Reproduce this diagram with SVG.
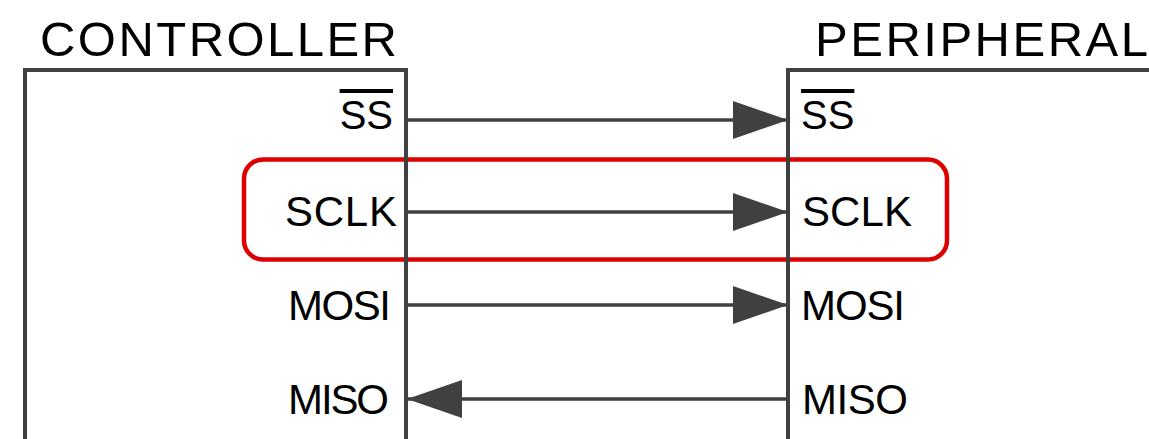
<svg xmlns="http://www.w3.org/2000/svg" width="1149" height="439" viewBox="0 0 1149 439">
  <style>
    .title { font-family: "Liberation Sans", Arial, sans-serif; font-size: 49px; fill: #000; }
    .sig { font-family: "Liberation Sans", Arial, sans-serif; font-size: 42px; fill: #000; }
    .box { fill: none; stroke: #404040; stroke-width: 4; }
    .wire { fill: none; stroke: #404040; stroke-width: 3.5; marker-end: url(#head); }
    .hl { fill: none; stroke: #dd0000; stroke-width: 4.5; }
  </style>
  <defs>
    <marker id="head" markerUnits="userSpaceOnUse" markerWidth="56" markerHeight="38" refX="54" refY="19" orient="auto" viewBox="0 0 56 38">
      <path d="M0,0 L55,19 L0,38 Z" fill="#404040"/>
    </marker>
  </defs>

  <!-- highlight around the clock line -->
  <rect id="sclk-highlight" class="hl" x="244" y="159.5" width="703" height="100" rx="19" ry="19"/>

  <g id="controller">
    <path class="box" d="M25,439 V70 H406 V439"/>
    <text class="title" x="40" y="56" textLength="357" lengthAdjust="spacing">CONTROLLER</text>
    <text class="sig" x="393" y="129" text-anchor="end" style="font-size:40px" text-decoration="overline">SS</text>
    <text class="sig" x="285" y="226" textLength="112" lengthAdjust="spacing">SCLK</text>
    <text class="sig" x="288" y="320" textLength="103" lengthAdjust="spacing">MOSI</text>
    <text class="sig" x="288" y="414" textLength="101" lengthAdjust="spacing">MISO</text>
  </g>

  <g id="peripheral">
    <path class="box" d="M788,439 V70 H1149"/>
    <text class="title" x="815" y="56" textLength="333" lengthAdjust="spacing">PERIPHERAL</text>
    <text class="sig" x="801" y="129" style="font-size:40px" text-decoration="overline">SS</text>
    <text class="sig" x="802" y="226" textLength="110" lengthAdjust="spacing">SCLK</text>
    <text class="sig" x="801" y="320" textLength="104" lengthAdjust="spacing">MOSI</text>
    <text class="sig" x="802" y="414" textLength="106" lengthAdjust="spacing">MISO</text>
  </g>

  <g id="connectors">
    <line class="wire" x1="406" y1="120" x2="787" y2="120"/>
    <line class="wire" x1="406" y1="212" x2="787" y2="212"/>
    <line class="wire" x1="406" y1="305" x2="787" y2="305"/>
    <line class="wire" x1="788" y1="399" x2="408" y2="399"/>
  </g>
</svg>
